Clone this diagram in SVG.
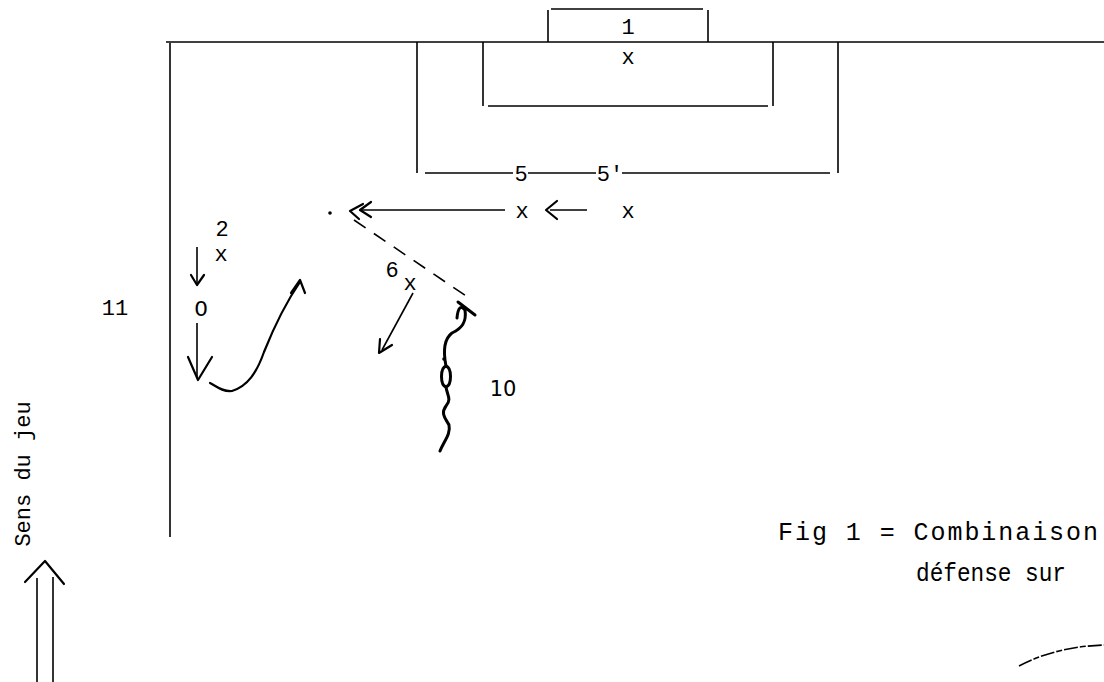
<svg xmlns="http://www.w3.org/2000/svg" width="1104" height="682" viewBox="0 0 1104 682">
<style>
.ln{stroke:#000;stroke-width:1.6;fill:none}
.th{stroke:#000;stroke-width:2.2;fill:none;stroke-linecap:round;stroke-linejoin:round}
.wv{stroke:#000;stroke-width:3;fill:none;stroke-linecap:round;stroke-linejoin:round}
.tw{font-family:"Liberation Mono","DejaVu Sans Mono",monospace;font-size:22px;fill:#000}
.cap{font-family:"Liberation Mono","DejaVu Sans Mono",monospace;font-size:25px;fill:#000}
.sa{font-family:"DejaVu Sans","Liberation Sans",sans-serif;font-size:21px;fill:#000}
</style>
<rect width="1104" height="682" fill="#fff"/>
<g id="pitch">
<line class="ln" x1="166" y1="42" x2="1104" y2="42"/>
<line class="ln" x1="170" y1="43" x2="170" y2="537"/>
<line class="ln" x1="548" y1="10" x2="548" y2="42"/>
<line class="ln" x1="708" y1="10" x2="708" y2="42"/>
<line class="ln" x1="551" y1="9" x2="703" y2="9"/>
<line class="ln" x1="483" y1="42" x2="483" y2="106"/>
<line class="ln" x1="773" y1="42" x2="773" y2="106"/>
<line class="ln" x1="488" y1="106" x2="768" y2="106"/>
<line class="ln" x1="417" y1="42" x2="417" y2="173"/>
<line class="ln" x1="838" y1="42" x2="838" y2="173"/>
<line class="ln" x1="425" y1="173" x2="513" y2="173"/>
<line class="ln" x1="528" y1="173" x2="596" y2="173"/>
<line class="ln" x1="622" y1="173" x2="830" y2="173"/>
</g>
<g id="goalkeeper">
<text class="tw" x="628" y="34" text-anchor="middle">1</text>
<text class="tw" x="628" y="64" text-anchor="middle">x</text>
</g>
<g id="p5"><text class="tw" x="521" y="181" text-anchor="middle">5</text><text class="tw" x="522" y="218" text-anchor="middle">x</text></g>
<g id="p5b"><text class="tw" x="610" y="181" text-anchor="middle">5'</text><text class="tw" x="628" y="218" text-anchor="middle">x</text></g>
<g id="p2"><text class="tw" x="222" y="236" text-anchor="middle" font-size="17">2</text><text class="tw" x="221" y="261" text-anchor="middle" font-size="21">x</text></g>
<g id="o2"><text class="tw" x="201" y="316" text-anchor="middle">O</text></g>
<g id="p6"><text class="tw" x="392" y="277" text-anchor="middle" font-size="20">6</text><text class="tw" x="410" y="290" text-anchor="middle">x</text></g>
<g id="o10"><path class="wv" d="M446,366 C440,368 440,385 446,387 C452,385 452,368 446,366 Z"/><circle cx="444" cy="359" r="1.8"/><text class="sa" x="503" y="396" text-anchor="middle">10</text></g>
<g id="p11"><text class="tw" x="115" y="315" text-anchor="middle">11</text></g>
<g id="connectors">
<line class="ln" x1="587" y1="210" x2="550" y2="210"/>
<path class="th" d="M557,201 L546,210 L557,219"/>
<line class="ln" x1="505" y1="210" x2="362" y2="210"/>
<path class="th" d="M371,202 L360,210 L371,217"/>
<path class="th" d="M363,204 L350,211 L359,219"/>
<circle cx="330" cy="213" r="1.8"/>
<line class="ln" x1="354" y1="220" x2="472" y2="300" stroke-dasharray="14,10"/>
<line class="ln" x1="197" y1="247" x2="197" y2="283"/>
<path class="th" d="M191,275 L197,285 L204,275"/>
<line class="ln" x1="197" y1="323" x2="197" y2="377"/>
<path class="th" d="M188,357 L198,380 L212,357"/>
<path class="th" d="M210,383 C216,386 222,392 232,391 C248,386 257,372 264,352 C276,322 289,298 300,282"/>
<path class="th" d="M291,293 L300,280 L305,293"/>
<line class="ln" x1="413" y1="293" x2="382" y2="350"/>
<path class="th" d="M380,339 L379,353 L392,345"/>
<path class="wv" d="M457,318 C458,307 461,305 465,310 M458,302 L475,315 M465,310 C467,323 461,329 452,333 C444,339 443,351 446,366 M446,387 C447,395 452,399 446,406 C440,414 446,419 449,425 C451,434 444,441 440,451"/>
</g>
<g id="caption">
<text class="cap" x="778" y="540" textLength="320" lengthAdjust="spacing">Fig 1 =  Combinaison</text>
<text class="cap" x="916" y="581" textLength="150" lengthAdjust="spacingAndGlyphs">défense sur</text>
</g>
<g id="direction">
<text class="tw" transform="translate(30,474) rotate(-90)" text-anchor="middle">Sens du jeu</text>
<line class="ln" x1="37" y1="578" x2="37" y2="682"/>
<line class="ln" x1="53" y1="577" x2="53" y2="682"/>
<path class="th" d="M25,582 L45,561 L64,584"/>
</g>
<g id="stamp">
<path d="M1019,666 C1045,652 1075,646 1104,645" stroke="#000" stroke-width="1.6" fill="none" stroke-dasharray="14,2,6,2"/>
</g>
</svg>
